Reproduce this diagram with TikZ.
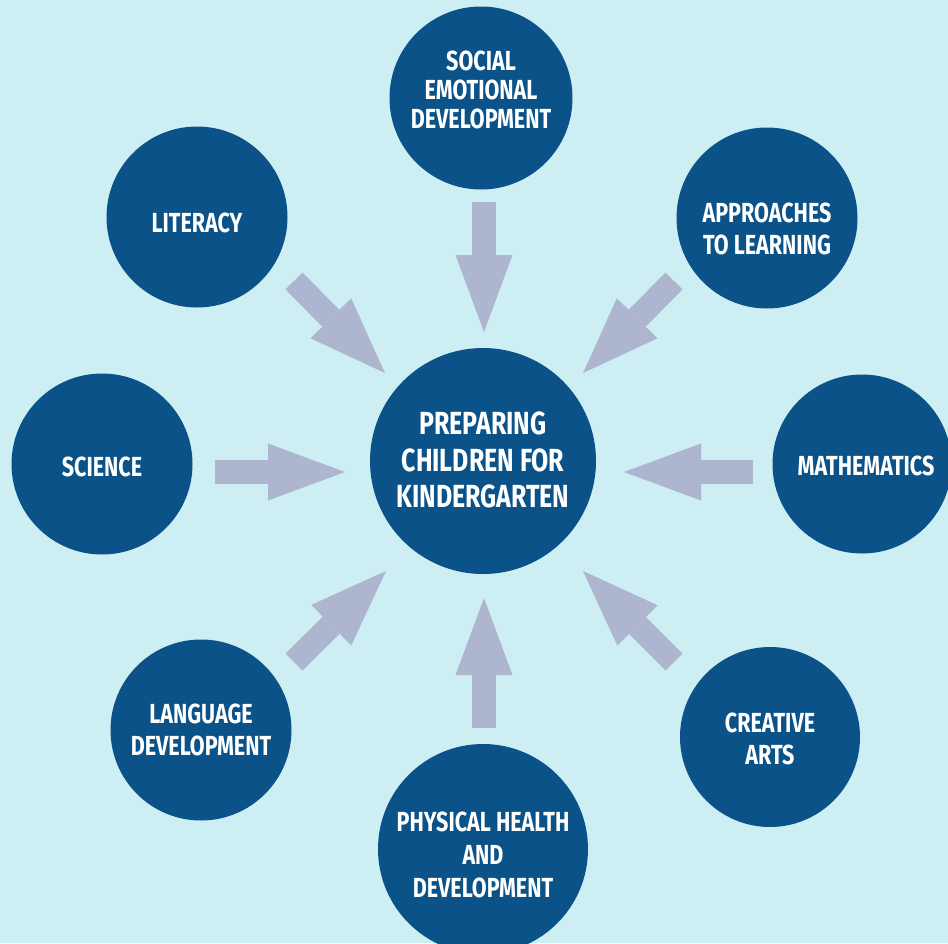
\documentclass[tikz,border=0pt]{standalone}
\usepackage{fontspec}
\setmainfont{Fira Sans}[FakeStretch=0.78]
\usetikzlibrary{arrows.meta}
\definecolor{bgc}{HTML}{CDEEF3}
\definecolor{circc}{HTML}{0B5288}
\definecolor{arrc}{HTML}{ADB5CF}
\tikzset{
  topic/.style={circle, fill=circc, inner sep=0pt, minimum size=181pt},
  lbl/.style={text=white, inner sep=0pt, align=center,
    font=\bfseries\fontsize{27.6}{32}\selectfont},
  hublbl/.style={lbl, font=\bfseries\fontsize{32}{36.5}\selectfont},
  barrow/.style={draw=arrc, line width=24pt,
    -{Triangle[length=77pt,width=57pt,line width=0pt]}}
}
\begin{document}
\begin{tikzpicture}[x=1pt,y=-1pt]
\useasboundingbox (0,0) rectangle (948,943);
\clip (0,0) rectangle (948,943);
\fill[bgc] (0,0) rectangle (948,943);

\node[topic, minimum size=226pt] (ctr) at (483,461) {};
\node[topic, minimum size=183pt] (soc) at (481,98) {};
\node[topic] (lit) at (197,217) {};
\node[topic] (app) at (767,218) {};
\node[topic] (sci) at (102,464) {};
\node[topic, minimum size=179pt] (math) at (862,464) {};
\node[topic] (lang) at (201,730) {};
\node[topic, minimum size=180pt] (crea) at (770,737) {};
\node[topic, minimum size=210pt] (phys) at (483,849) {};

\node[hublbl] (ctrT) at (483,460) {PREPARING\\CHILDREN FOR\\KINDERGARTEN};
\node[lbl, font=\bfseries\fontsize{27.6}{29}\selectfont] (socT) at (481,89.5) {SOCIAL\\EMOTIONAL\\DEVELOPMENT};
\node[lbl] (litT) at (197,223) {LITERACY};
\node[lbl] (appT) at (767,228.5) {APPROACHES\\TO LEARNING};
\node[lbl] (sciT) at (102,466.5) {SCIENCE};
\node[lbl] (mathT) at (866,466) {MATHEMATICS};
\node[lbl] (langT) at (201,730) {LANGUAGE\\DEVELOPMENT};
\node[lbl] (creaT) at (770,739) {CREATIVE\\ARTS};
\node[lbl, font=\bfseries\fontsize{27.6}{33}\selectfont] (physT) at (483,855) {PHYSICAL HEALTH\\AND\\DEVELOPMENT};

\coordinate (socA) at (484,202);  \coordinate (socB) at (484,332);
\coordinate (litA) at (294,281);  \coordinate (litB) at (385,373);
\coordinate (appA) at (674,281);  \coordinate (appB) at (583,373);
\coordinate (sciA) at (215,472);  \coordinate (sciB) at (345,472);
\coordinate (mathA) at (753,472); \coordinate (mathB) at (624,472);
\coordinate (langA) at (294,662); \coordinate (langB) at (386,571);
\coordinate (creaA) at (674,662); \coordinate (creaB) at (583,571);
\coordinate (physA) at (484,728); \coordinate (physB) at (484,598);

\draw[barrow] (socA) -- (socB);
\draw[barrow] (litA) -- (litB);
\draw[barrow] (appA) -- (appB);
\draw[barrow] (sciA) -- (sciB);
\draw[barrow] (mathA) -- (mathB);
\draw[barrow] (langA) -- (langB);
\draw[barrow] (creaA) -- (creaB);
\draw[barrow] (physA) -- (physB);
\end{tikzpicture}
\end{document}
